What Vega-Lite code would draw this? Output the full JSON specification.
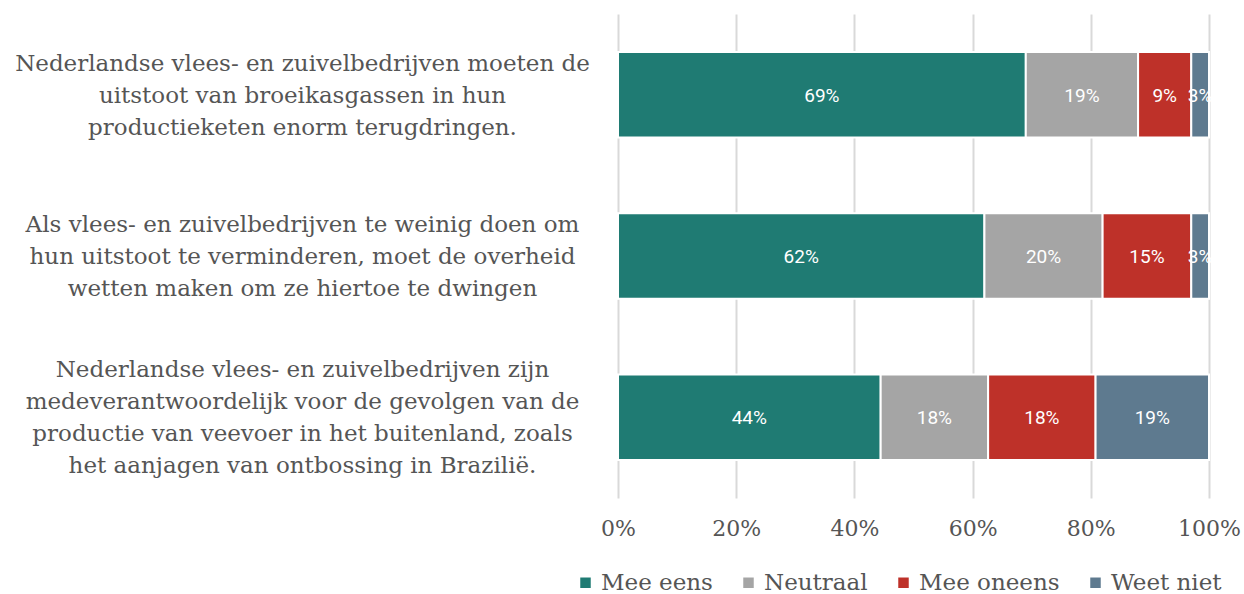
{
  "$schema": "https://vega.github.io/schema/vega-lite/v6.json",
  "width": 591,
  "height": 484,
  "autosize": {"type": "none"},
  "padding": {"left": 618, "top": 14, "right": 35, "bottom": 96},
  "background": "white",
  "config": {
    "view": {"stroke": null},
    "font": "DejaVu Serif"
  },
  "data": {
    "values": [
      {"q": "Nederlandse vlees- en zuivelbedrijven moeten de|uitstoot van broeikasgassen in hun|productieketen enorm terugdringen.", "qi": 1, "cat": "Mee eens", "ci": 1, "value": 69},
      {"q": "Nederlandse vlees- en zuivelbedrijven moeten de|uitstoot van broeikasgassen in hun|productieketen enorm terugdringen.", "qi": 1, "cat": "Neutraal", "ci": 2, "value": 19},
      {"q": "Nederlandse vlees- en zuivelbedrijven moeten de|uitstoot van broeikasgassen in hun|productieketen enorm terugdringen.", "qi": 1, "cat": "Mee oneens", "ci": 3, "value": 9},
      {"q": "Nederlandse vlees- en zuivelbedrijven moeten de|uitstoot van broeikasgassen in hun|productieketen enorm terugdringen.", "qi": 1, "cat": "Weet niet", "ci": 4, "value": 3},
      {"q": "Als vlees- en zuivelbedrijven te weinig doen om|hun uitstoot te verminderen, moet de overheid|wetten maken om ze hiertoe te dwingen", "qi": 2, "cat": "Mee eens", "ci": 1, "value": 62},
      {"q": "Als vlees- en zuivelbedrijven te weinig doen om|hun uitstoot te verminderen, moet de overheid|wetten maken om ze hiertoe te dwingen", "qi": 2, "cat": "Neutraal", "ci": 2, "value": 20},
      {"q": "Als vlees- en zuivelbedrijven te weinig doen om|hun uitstoot te verminderen, moet de overheid|wetten maken om ze hiertoe te dwingen", "qi": 2, "cat": "Mee oneens", "ci": 3, "value": 15},
      {"q": "Als vlees- en zuivelbedrijven te weinig doen om|hun uitstoot te verminderen, moet de overheid|wetten maken om ze hiertoe te dwingen", "qi": 2, "cat": "Weet niet", "ci": 4, "value": 3},
      {"q": "Nederlandse vlees- en zuivelbedrijven zijn|medeverantwoordelijk voor de gevolgen van de|productie van veevoer in het buitenland, zoals|het aanjagen van ontbossing in Brazilië.", "qi": 3, "cat": "Mee eens", "ci": 1, "value": 44},
      {"q": "Nederlandse vlees- en zuivelbedrijven zijn|medeverantwoordelijk voor de gevolgen van de|productie van veevoer in het buitenland, zoals|het aanjagen van ontbossing in Brazilië.", "qi": 3, "cat": "Neutraal", "ci": 2, "value": 18},
      {"q": "Nederlandse vlees- en zuivelbedrijven zijn|medeverantwoordelijk voor de gevolgen van de|productie van veevoer in het buitenland, zoals|het aanjagen van ontbossing in Brazilië.", "qi": 3, "cat": "Mee oneens", "ci": 3, "value": 18},
      {"q": "Nederlandse vlees- en zuivelbedrijven zijn|medeverantwoordelijk voor de gevolgen van de|productie van veevoer in het buitenland, zoals|het aanjagen van ontbossing in Brazilië.", "qi": 3, "cat": "Weet niet", "ci": 4, "value": 19}
    ]
  },
  "transform": [
    {"stack": "value", "groupby": ["q"], "sort": [{"field": "ci", "order": "ascending"}], "offset": "normalize", "as": ["x0", "x1"]},
    {"calculate": "(datum.x0 + datum.x1) / 2", "as": "xm"},
    {"calculate": "datum.value + '%'", "as": "label"}
  ],
  "encoding": {
    "y": {
      "field": "q",
      "type": "nominal",
      "sort": {"field": "qi", "order": "ascending"},
      "scale": {"paddingInner": 0.47, "paddingOuter": 0.235},
      "axis": {
        "title": null,
        "ticks": false,
        "tickSize": 0,
        "domain": false,
        "labelExpr": "split(datum.label, '|')",
        "labelAlign": "center",
        "labelBaseline": "middle",
        "labelPadding": 316,
        "labelOffset": {"condition": {"test": "length(split(datum.label, '|')) == 4", "value": -47}, "value": -31},
        "labelFont": "DejaVu Serif",
        "labelFontSize": 23,
        "labelLineHeight": 32,
        "labelColor": "#555555",
        "labelLimit": 0
      }
    }
  },
  "layer": [
    {
      "mark": {"type": "bar", "stroke": "white", "strokeWidth": 2},
      "encoding": {
        "x": {
          "field": "x0",
          "type": "quantitative",
          "scale": {"domain": [0, 1]},
          "axis": {
            "title": null,
            "format": ".0%",
            "values": [0, 0.2, 0.4, 0.6, 0.8, 1],
            "grid": true,
            "gridColor": "#d9d9d9",
            "gridWidth": 2,
            "domain": false,
            "ticks": false,
            "tickSize": 0,
            "labelPadding": 20,
            "labelFont": "DejaVu Serif",
            "labelFontSize": 22,
            "labelColor": "#555555",
            "labelFlush": false
          }
        },
        "x2": {"field": "x1"},
        "color": {
          "field": "cat",
          "type": "nominal",
          "sort": ["Mee eens", "Neutraal", "Mee oneens", "Weet niet"],
          "scale": {
            "domain": ["Mee eens", "Neutraal", "Mee oneens", "Weet niet"],
            "range": ["#1F7B73", "#A5A5A5", "#BE3129", "#5E7A8F"]
          },
          "legend": {
            "title": null,
            "orient": "none",
            "direction": "horizontal",
            "legendX": -44,
            "legendY": 557,
            "symbolType": "square",
            "symbolSize": 110,
            "symbolStrokeWidth": 0,
            "labelFont": "DejaVu Serif",
            "labelFontSize": 23,
            "labelColor": "#555555",
            "labelOffset": 4,
            "columnPadding": 24,
            "padding": 0
          }
        }
      }
    },
    {
      "mark": {"type": "text", "color": "white", "font": "Roboto", "fontSize": 19, "align": "center", "baseline": "middle", "dy": 1},
      "encoding": {
        "x": {"field": "xm", "type": "quantitative"},
        "text": {"field": "label"}
      }
    }
  ]
}
